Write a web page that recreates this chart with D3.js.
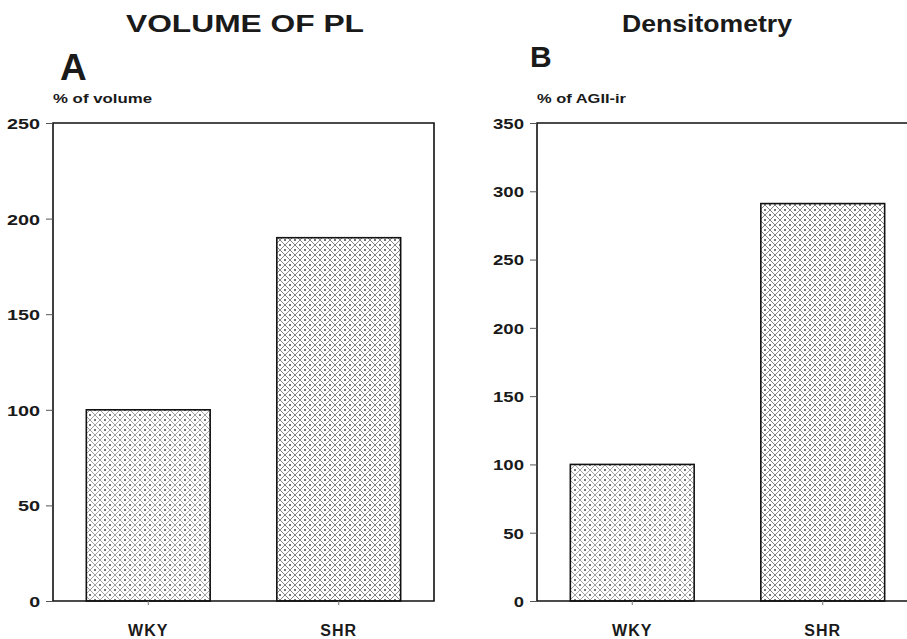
<!DOCTYPE html>
<html>
<head>
<meta charset="utf-8">
<script src="https://cdn.jsdelivr.net/npm/d3@7"></script>
<style>
  html, body { margin: 0; padding: 0; background: #fff; }
  svg { display: block; }
  text { font-family: "Liberation Sans", Arial, Helvetica, sans-serif; font-weight: bold; fill: #1a1a1a; }
</style>
</head>
<body>
<svg id="chart" width="907" height="639"></svg>
<script>
// ---- data ----
const categories = ["WKY", "SHR"];
const volumeValues = [100, 190];
const densityValues = [100, 291];
const volumeTicks = [0, 50, 100, 150, 200, 250];
const densityTicks = [0, 50, 100, 150, 200, 250, 300, 350];
const panelTitles = ["VOLUME OF PL", "Densitometry"];
const panelLetters = ["A", "B"];
const yLabels = ["% of volume", "% of AGII-ir"];

const svg = d3.select("#chart");

// crosshatch + dot pattern
const defs = svg.append("defs");
function makePattern(id, lineColor) {
  const s = 10, h = s / 2;
  const p = defs.append("pattern")
    .attr("id", id).attr("patternUnits", "userSpaceOnUse")
    .attr("width", s).attr("height", s);
  p.append("rect").attr("width", s).attr("height", s).attr("fill", "#fff");
  p.append("path")
    .attr("d", `M0,0 L${s},${s} M${s},0 L0,${s} M-1,${s-1} L1,${s+1} M${s-1},-1 L${s+1},1 M-1,1 L1,-1 M${s-1},${s+1} L${s+1},${s-1}`)
    .attr("stroke", lineColor).attr("stroke-width", 0.8).attr("fill", "none");
  [[0, h], [s, h], [h, 0], [h, s]].forEach(([cx, cy]) =>
    p.append("circle").attr("cx", cx).attr("cy", cy).attr("r", 0.9).attr("fill", "#333"));
}
makePattern("hatchLight", "#8c8c8c");
makePattern("hatchDark", "#666");

const panels = [
  { left: 53, right: 434, values: volumeValues, ticks: volumeTicks, max: 250,
    title: panelTitles[0], titleX: 245, titleW: 238,
    letter: panelLetters[0], letterX: 60, letterY: 80, letterSize: 37,
    ylab: yLabels[0], ylabW: 99, tickW: 33 },
  { left: 537, right: 918, values: densityValues, ticks: densityTicks, max: 350,
    title: panelTitles[1], titleX: 707, titleW: 170,
    letter: panelLetters[1], letterX: 530, letterY: 67, letterSize: 30,
    ylab: yLabels[1], ylabW: 89, tickW: 31 }
];
const plotTop = 123, plotBottom = 601;

panels.forEach(P => {
  const g = svg.append("g");
  const y = d3.scaleLinear().domain([0, P.max]).range([plotBottom, plotTop]);
  const x = d3.scaleBand().domain(categories).range([P.left, P.right])
    .paddingInner(0.35).paddingOuter(0.175);

  // titles
  g.append("text").attr("x", P.titleX).attr("y", 32).attr("text-anchor", "middle")
    .attr("font-size", 23).attr("textLength", P.titleW).attr("lengthAdjust", "spacingAndGlyphs")
    .text(P.title);
  g.append("text").attr("x", P.letterX).attr("y", P.letterY)
    .attr("font-size", P.letterSize).text(P.letter);
  g.append("text").attr("x", P.left).attr("y", 103)
    .attr("font-size", 12.5).attr("textLength", P.ylabW).attr("lengthAdjust", "spacingAndGlyphs")
    .text(P.ylab);

  // bars
  g.selectAll("rect.bar").data(P.values).join("rect")
    .attr("class", "bar")
    .attr("x", (d, i) => x(categories[i]))
    .attr("y", d => y(d))
    .attr("width", x.bandwidth())
    .attr("height", d => y(0) - y(d))
    .attr("fill", (d, i) => i === 0 ? "url(#hatchLight)" : "url(#hatchDark)")
    .attr("stroke", "#111").attr("stroke-width", 1.6);

  // frame
  g.append("path")
    .attr("d", `M${P.left},${plotBottom} L${P.left},${plotTop} L${P.right},${plotTop} L${P.right},${plotBottom} Z`)
    .attr("fill", "none").attr("stroke", "#111").attr("stroke-width", 1.6);

  // y axis
  const ya = g.append("g").attr("transform", `translate(${P.left},0)`)
    .call(d3.axisLeft(y).tickValues(P.ticks).tickSize(7).tickPadding(6));
  ya.select(".domain").remove();
  ya.selectAll(".tick line").attr("stroke", "#555").attr("stroke-width", 1);
  ya.selectAll(".tick text")
    .attr("font-size", 15).attr("fill", "#1a1a1a")
    .attr("font-family", "Liberation Sans, Arial, sans-serif").attr("font-weight", "bold")
    .attr("dy", "0.36em")
    .each(function(d) {
      const s = String(d);
      d3.select(this).attr("textLength", s.length === 3 ? P.tickW : (s.length === 2 ? P.tickW * 0.67 : P.tickW * 0.33))
        .attr("lengthAdjust", "spacingAndGlyphs");
    });

  // x axis
  const xa = g.append("g").attr("transform", `translate(0,${plotBottom})`)
    .call(d3.axisBottom(x).tickSize(4).tickPadding(20));
  xa.select(".domain").remove();
  xa.selectAll(".tick line").attr("stroke", "#777").attr("stroke-width", 1);
  xa.selectAll(".tick text")
    .attr("font-size", 16).attr("fill", "#1a1a1a")
    .attr("font-family", "Liberation Sans, Arial, sans-serif").attr("font-weight", "bold")
    .attr("letter-spacing", 1);
});
</script>
</body>
</html>
